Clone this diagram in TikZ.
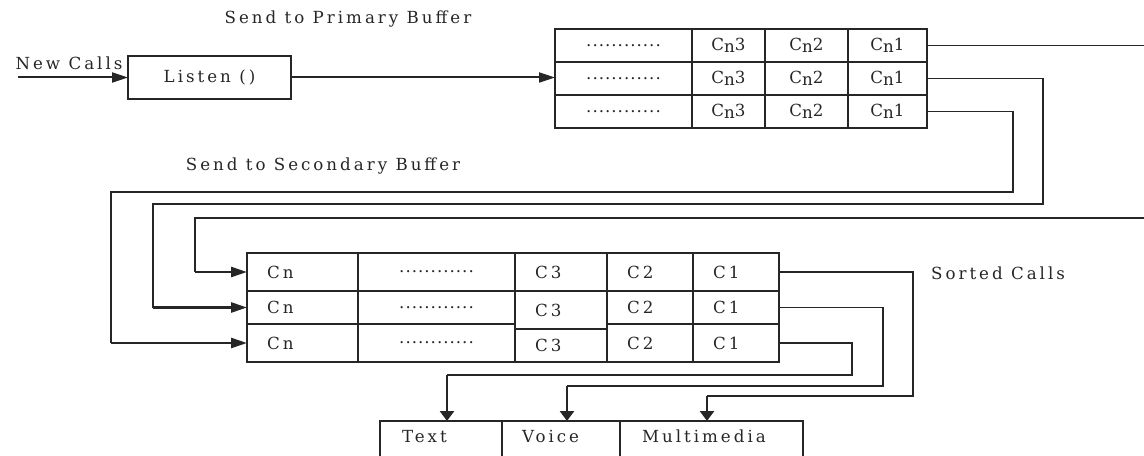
\documentclass[tikz,border=0pt]{standalone}
\usepackage{fontspec}
\setmainfont{DejaVu Serif}[LetterSpace=18]
\newfontfamily\dotfont{DejaVu Serif}[LetterSpace=6]
\usetikzlibrary{arrows.meta,positioning}
\definecolor{ink}{HTML}{262626}
\newcommand{\cnsub}[1]{C\raisebox{-0.3ex}{n}#1}

\begin{document}
\begin{tikzpicture}[x=0.75pt,y=0.75pt,yscale=-1,xscale=1,
  every node/.style={font=\fontsize{12.5}{15}\selectfont, text=ink},
  cell/.style={draw=ink, line width=0.9pt, inner sep=0pt, outer sep=0pt},
  lcell/.style={cell, inner xsep=15pt, align=left, text width=#1},
  outbox/.style={draw=ink, line width=0.9pt, inner ysep=0pt, outer sep=0pt, anchor=north west, align=left, text height=15.75pt, text depth=22.5pt},
  route/.style={draw=ink, line width=0.8pt},
  feed/.style={draw=ink, line width=1.9pt, -{Triangle[length=12pt,width=7.5pt]}},
  drop/.style={draw=ink, line width=2.2pt, -{Triangle[length=7.5pt,width=10.5pt]}},
  intake/.style={draw=ink, line width=1.5pt, -{Triangle[length=12pt,width=7.5pt]}}
]
\useasboundingbox (0,0) rectangle (1144,456);
\clip (0,0) rectangle (1144,456);

% Text Node
\node (primlbl) at (348,19) {Send to Primary Buffer};
% Text Node
\node (seclbl) at (323,166) {Send to Secondary Buffer};
% Text Node
\node (sortlbl) at (998,273) {Sorted Calls};
% Text Node
\node (newlbl) at (69,63) {New Calls};

% Listen
\node[cell, minimum width=122.25pt, minimum height=32.25pt] (listen) at (209.5,77.5) {Listen ()};
\coordinate (callin) at (18,77.5);
\draw[intake] (callin) -- (listen.west);

% primary buffer
\node[cell, minimum width=102.75pt, minimum height=24.75pt] (p11) at (623.5,45.5) {\dotfont ............};
\node[cell, minimum width=54.75pt, minimum height=24.75pt] (p12) at (728.5,45.5) {\cnsub{3}};
\node[cell, minimum width=62.25pt, minimum height=24.75pt] (p13x) at (806.5,45.5) {\cnsub{2}};
\node[cell, minimum width=59.25pt, minimum height=24.75pt] (p13) at (887.5,45.5) {\cnsub{1}};
\node[cell, minimum width=102.75pt, minimum height=24.75pt] (p21) at (623.5,78.5) {\dotfont ............};
\node[cell, minimum width=54.75pt, minimum height=24.75pt] (p22) at (728.5,78.5) {\cnsub{3}};
\node[cell, minimum width=62.25pt, minimum height=24.75pt] (p23x) at (806.5,78.5) {\cnsub{2}};
\node[cell, minimum width=59.25pt, minimum height=24.75pt] (p23) at (887.5,78.5) {\cnsub{1}};
\node[cell, minimum width=102.75pt, minimum height=24.75pt] (p31) at (623.5,111.5) {\dotfont ............};
\node[cell, minimum width=54.75pt, minimum height=24.75pt] (p32) at (728.5,111.5) {\cnsub{3}};
\node[cell, minimum width=62.25pt, minimum height=24.75pt] (p33x) at (806.5,111.5) {\cnsub{2}};
\node[cell, minimum width=59.25pt, minimum height=24.75pt] (p33) at (887.5,111.5) {\cnsub{1}};
\draw[intake] (listen.east) -- (listen.east -| p21.west);

% secondary buffer
\node[lcell=53.25pt, minimum height=28.5pt] (b11) at (302.5,272) {Cn};
\node[cell, minimum width=117.75pt, minimum height=28.5pt] (b12) at (436.5,272) {\dotfont ............};
\node[lcell=39pt, minimum height=28.5pt] (b13) at (561,272) {C3};
\node[lcell=34.5pt, minimum height=28.5pt] (b14) at (650,272) {C2};
\node[lcell=34.5pt, minimum height=28.5pt] (b15) at (736,272) {C1};
\node[lcell=53.25pt, minimum height=24.75pt] (b21) at (302.5,307.5) {Cn};
\node[cell, minimum width=117.75pt, minimum height=24.75pt] (b22) at (436.5,307.5) {\dotfont ............};
\node[lcell=39pt, minimum height=28.5pt] (b23) at (561,310) {C3};
\node[lcell=34.5pt, minimum height=24.75pt] (b24) at (650,307.5) {C2};
\node[lcell=34.5pt, minimum height=24.75pt] (b25) at (736,307.5) {C1};
\node[lcell=53.25pt, minimum height=28.5pt] (b31) at (302.5,343) {Cn};
\node[cell, minimum width=117.75pt, minimum height=28.5pt] (b32) at (436.5,343) {\dotfont ............};
\node[lcell=39pt, minimum height=24.75pt] (b33) at (561,345.5) {C3};
\node[lcell=34.5pt, minimum height=28.5pt] (b34) at (650,343) {C2};
\node[lcell=34.5pt, minimum height=28.5pt] (b35) at (736,343) {C1};

% primary -> secondary
\coordinate (edgeA) at (1144,45.5);
\draw[route] (p13.east) -- (edgeA);
\coordinate (edgeB) at (1144,218);
\draw[route] (edgeB) -| (195,272) coordinate (r1);
\draw[feed] (r1) -- (b11.west);
\draw[route] (p23.east) -| (1043,204) -| (153,307.5) coordinate (r2);
\draw[feed] (r2) -- (b21.west);
\draw[route] (p33.east) -| (1013,192) -| (111,343) coordinate (r3);
\draw[feed] (r3) -- (b31.west);

% sorted outputs
\node[outbox, inner xsep=16.5pt, text width=58.5pt] (otext) at (380,421) {Text};
\node[outbox, inner xsep=15pt, text width=58.5pt] (ovoice) at (502,421) {Voice};
\node[outbox, inner xsep=16.5pt, text width=104.25pt] (omedia) at (620,421) {Multimedia};

\draw[route] (b15.east) -| (913,396) -- (707,396) coordinate (d3);
\draw[drop] (d3) -- (d3 |- omedia.north);
\draw[route] (b25.east) -| (883,386) -- (567,386) coordinate (d2);
\draw[drop] (d2) -- (d2 |- ovoice.north);
\draw[route] (b35.east) -| (852,375) -- (447,375) coordinate (d1);
\draw[drop] (d1) -- (d1 |- otext.north);

\end{tikzpicture}
\end{document}
